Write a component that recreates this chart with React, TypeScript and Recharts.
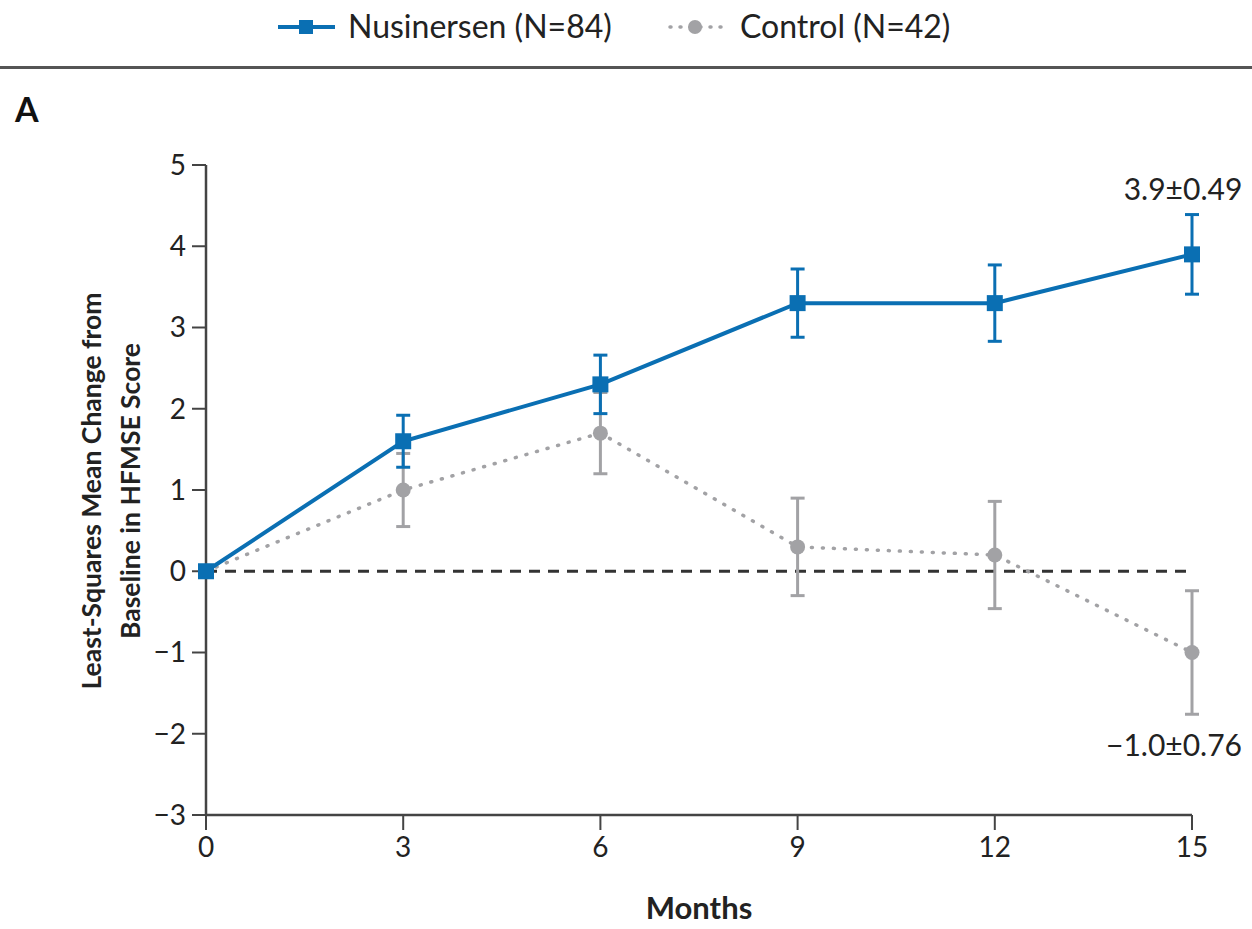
import React from "react";
import {
  LineChart,
  Line,
  XAxis,
  YAxis,
  ErrorBar,
  ReferenceLine,
  LabelList,
} from "recharts";

// values (HFMSE change from baseline)
const months = [0, 3, 6, 9, 12, 15];
const nusinersen = [0, 1.6, 2.3, 3.3, 3.3, 3.9];
const nusinersenErr = [0, 0.32, 0.36, 0.42, 0.47, 0.49];
const control = [0, 1.0, 1.7, 0.3, 0.2, -1.0];
const controlErr = [0, 0.45, 0.5, 0.6, 0.66, 0.76];
const nusinersenNotes = ["", "", "", "", "", "3.9\u00b10.49"];
const controlNotes = ["", "", "", "", "", "\u22121.0\u00b10.76"];

const xTicks = [0, 3, 6, 9, 12, 15];
const yTicks = [-3, -2, -1, 0, 1, 2, 3, 4, 5];

const BLUE = "#0a6fb3";
const GRAY = "#a2a2a5";
const AXIS = "#444444";
const FONT = "Lato, 'Open Sans', sans-serif";

const data = months.map((m, i) => ({
  month: m,
  nus: nusinersen[i],
  nusErr: nusinersenErr[i],
  nusNote: nusinersenNotes[i],
  ctrl: control[i],
  ctrlErr: controlErr[i],
  ctrlNote: controlNotes[i],
}));

const SquareDot = (p: any) => {
  if (p.cx == null || p.cy == null) return null;
  return <rect x={p.cx - 8} y={p.cy - 8} width={16} height={16} fill={BLUE} />;
};

const RoundDot = (p: any) => {
  if (p.cx == null || p.cy == null) return null;
  return <circle cx={p.cx} cy={p.cy} r={7.5} fill={GRAY} />;
};

// value annotations next to the last point
const note = (dx: number, dy: number) => (p: any) => {
  if (!p.value) return null;
  return (
    <text
      x={p.x + dx}
      y={p.y + dy}
      textAnchor="middle"
      fontFamily={FONT}
      fontSize={30}
      fill="#222"
    >
      {p.value}
    </text>
  );
};

export default function App() {
  return (
    <div
      style={{
        position: "absolute",
        left: 0,
        top: 0,
        width: 1252,
        height: 929,
        background: "#fff",
        fontFamily: FONT,
      }}
    >
      {/* legend */}
      <svg
        width={1252}
        height={60}
        style={{ position: "absolute", left: 0, top: 0 }}
      >
        <line x1={278} y1={27} x2={335} y2={27} stroke={BLUE} strokeWidth={4} />
        <rect x={299} y={20} width={14} height={14} fill={BLUE} />
        <text x={348} y={38} fontFamily={FONT} fontSize={32} fill="#222">
          Nusinersen (N=84)
        </text>
        <line
          x1={670}
          y1={27}
          x2={722}
          y2={27}
          stroke={GRAY}
          strokeWidth={3.5}
          strokeDasharray="1 9"
          strokeLinecap="round"
        />
        <circle cx={695} cy={27} r={7} fill={GRAY} />
        <text x={740} y={38} fontFamily={FONT} fontSize={32} fill="#222">
          Control (N=42)
        </text>
      </svg>
      <div
        style={{
          position: "absolute",
          left: 0,
          top: 66,
          width: 1252,
          height: 3,
          background: "#555",
        }}
      />
      <div
        style={{
          position: "absolute",
          left: 15,
          top: 88,
          fontSize: 34,
          fontWeight: 700,
          color: "#111",
        }}
      >
        A
      </div>
      {/* y axis title */}
      <svg
        width={200}
        height={929}
        style={{ position: "absolute", left: 0, top: 0 }}
      >
        <text
          transform="translate(101,491) rotate(-90)"
          textAnchor="middle"
          fontFamily={FONT}
          fontSize={26.5}
          fontWeight={700}
          fill="#222"
        >
          Least-Squares Mean Change from
        </text>
        <text
          transform="translate(140,491) rotate(-90)"
          textAnchor="middle"
          fontFamily={FONT}
          fontSize={26.5}
          fontWeight={700}
          fill="#222"
        >
          Baseline in HFMSE Score
        </text>
      </svg>

      <div style={{ position: "absolute", left: 0, top: 0 }}>
        <LineChart
          width={1252}
          height={929}
          data={data}
          margin={{ top: 165, right: 60, left: 146, bottom: 54 }}
        >
          <XAxis
            dataKey="month"
            type="number"
            domain={[0, 15]}
            ticks={xTicks}
            height={60}
            tick={{ fill: "#222", fontSize: 28, fontFamily: FONT }}
            tickMargin={7}
            tickSize={15}
            axisLine={{ stroke: AXIS, strokeWidth: 2.5 }}
            tickLine={{ stroke: AXIS, strokeWidth: 2 }}
            label={{
              value: "Months",
              position: "insideBottom",
              offset: -44,
              fill: "#222",
              fontSize: 31,
              fontWeight: 700,
              fontFamily: FONT,
            }}
          />
          <YAxis
            type="number"
            domain={[-3, 5]}
            ticks={yTicks}
            width={60}
            interval={0}
            tick={{ fill: "#222", fontSize: 28, fontFamily: FONT }}
            tickSize={14}
            tickMargin={6}
            axisLine={{ stroke: AXIS, strokeWidth: 2.5 }}
            tickLine={{ stroke: AXIS, strokeWidth: 2 }}
            tickFormatter={(v) => (v < 0 ? `\u2212${Math.abs(v)}` : `${v}`)}
          />
          <ReferenceLine
            y={0}
            segment={[
              { x: 0.25, y: 0 },
              { x: 15, y: 0 },
            ]}
            stroke="#333"
            strokeWidth={3}
            strokeDasharray="11 8"
          />
          <Line
            dataKey="ctrl"
            stroke={GRAY}
            strokeWidth={3.5}
            strokeDasharray="1 10"
            strokeLinecap="round"
            dot={<RoundDot />}
            activeDot={false}
            isAnimationActive={false}
          >
            <ErrorBar
              dataKey="ctrlErr"
              direction="y"
              width={7}
              stroke={GRAY}
              strokeWidth={3}
              isAnimationActive={false}
            />
            <LabelList dataKey="ctrlNote" content={note(-18, 103)} />
          </Line>
          <Line
            dataKey="nus"
            stroke={BLUE}
            strokeWidth={4}
            dot={<SquareDot />}
            activeDot={false}
            isAnimationActive={false}
          >
            <ErrorBar
              dataKey="nusErr"
              direction="y"
              width={7}
              stroke={BLUE}
              strokeWidth={3}
              isAnimationActive={false}
            />
            <LabelList dataKey="nusNote" content={note(-9, -54)} />
          </Line>
        </LineChart>
      </div>
    </div>
  );
}
